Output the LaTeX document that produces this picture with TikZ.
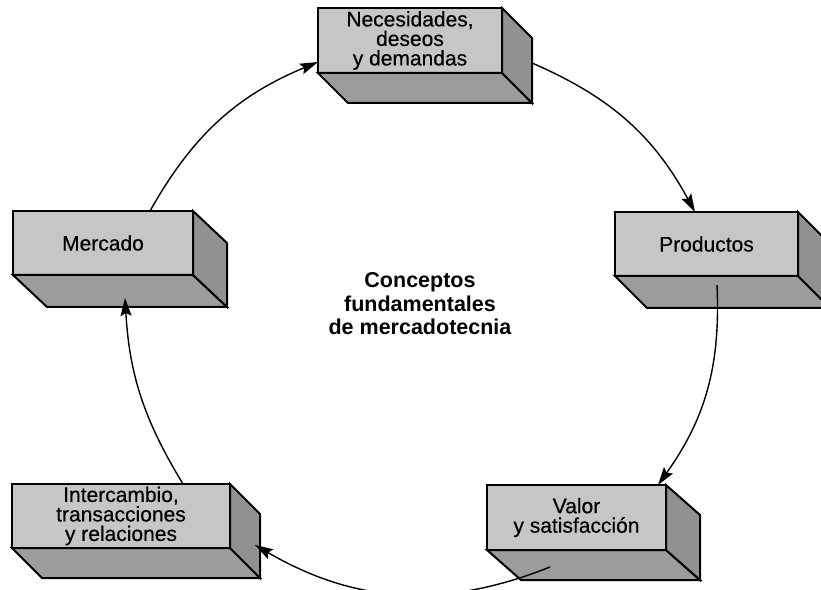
\documentclass[tikz,border=0pt]{standalone}
\usepackage{fontspec}
\setmainfont{Liberation Sans}
\newfontfamily\blockfont[FakeBold=0.4]{Liberation Sans}
\usetikzlibrary{calc,arrows.meta}

\definecolor{frontgray}{HTML}{C6C6C6}
\definecolor{bottomgray}{HTML}{9C9C9C}
\definecolor{sidegray}{HTML}{919191}

\tikzset{
  x=1pt, y=1pt,
  blockface/.style={draw=black, line width=2pt, fill=frontgray,
    inner sep=0pt, outer sep=0pt, align=center, line join=miter,
    font=\blockfont\fontsize{21}{19.5}\selectfont},
  depthface/.style={draw=black, line width=2pt, line join=miter},
  cyclearrow/.style={draw=black, line width=1.4pt,
    -{Stealth[length=18pt, width=11pt, inset=3pt]}},
}

% extrude a front face (node #1) by (#2,#3) down and to the right
\newcommand{\extrudeblock}[3]{%
  \path[depthface, fill=bottomgray]
    (#1.south west) -- (#1.south east) -- ++(#2,-#3)
    -- ($(#1.south west)+(#2,-#3)$) -- cycle;
  \path[depthface, fill=sidegray]
    (#1.north east) -- ++(#2,-#3) -- ($(#1.south east)+(#2,-#3)$)
    -- (#1.south east) -- cycle;
  \draw[line width=2pt] (#1.north west) rectangle (#1.south east);
}

\begin{document}
\begin{tikzpicture}
\useasboundingbox (0,0) rectangle (821,589);
\clip (0,0) rectangle (821,589);
\fill[white] (0,0) rectangle (821,589);

% front faces of the five blocks
\node[blockface, minimum width=184, minimum height=65] (nec) at (410,548.5)
  {Necesidades,\\deseos\\y demandas};
\node[blockface, minimum width=180, minimum height=64] (merc) at (103,346)
  {Mercado};
\node[blockface, minimum width=183, minimum height=64] (prod) at (706.5,345)
  {Productos};
\node[blockface, minimum width=179, minimum height=65] (valor) at (576.5,71.5)
  {Valor\\y satisfacción};
\node[blockface, minimum width=218, minimum height=64] (inter) at (121,73)
  {Intercambio,\\transacciones\\y relaciones};

% depth of each block
\extrudeblock{nec}{30}{30}
\extrudeblock{merc}{34}{32}
\extrudeblock{prod}{32}{32}
\extrudeblock{valor}{34}{30}
\extrudeblock{inter}{30}{30}

% central title
\node[font=\bfseries\fontsize{21.5}{23.5}\selectfont, align=center] (title)
  at (420,285) {Conceptos\\fundamentales\\de mercadotecnia};

% the cycle of concepts
\draw[cyclearrow] ([xshift=47pt]merc.north) to[bend left=19]
  ([yshift=-21.5pt]nec.west);
\draw[cyclearrow] ([xshift=30pt, yshift=-22.5pt]nec.east) to[bend left=19]
  ([xshift=-11.5pt]prod.north);
\draw[cyclearrow] ([xshift=10.5pt, yshift=-9pt]prod.south) to[bend left=19]
  ([xshift=81.5pt]valor.north);
\draw[cyclearrow] ([xshift=-26.5pt, yshift=-17pt]valor.south) to[bend left=26]
  ([xshift=25pt, yshift=-29pt]inter.east);
\draw[cyclearrow] ([xshift=62pt]inter.north) to[bend left=14]
  ([xshift=22pt, yshift=-23pt]merc.south);
\end{tikzpicture}
\end{document}
